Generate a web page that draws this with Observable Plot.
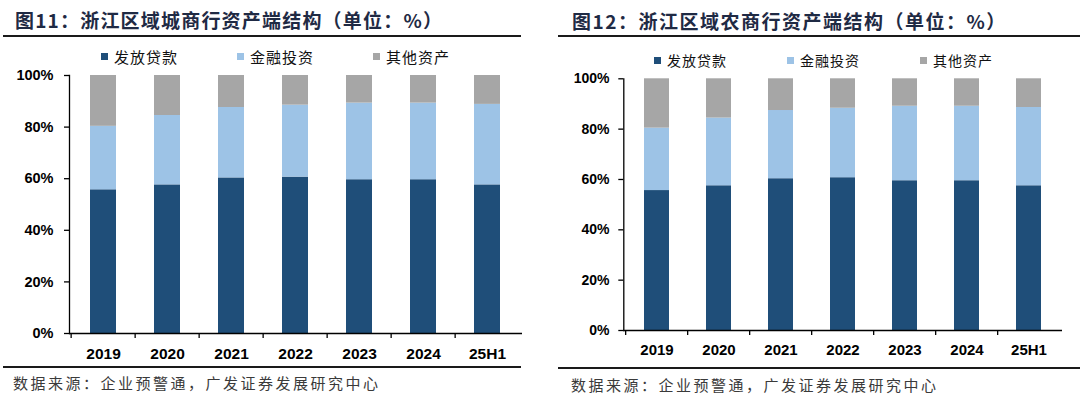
<!DOCTYPE html>
<html><head><meta charset="utf-8">
<script src="https://cdn.jsdelivr.net/npm/d3@7"></script>
<script src="https://cdn.jsdelivr.net/npm/@observablehq/plot@0.6"></script>
<style>
html,body{margin:0;padding:0;background:#fff;}
body{width:1080px;height:400px;overflow:hidden;position:relative;font-family:"Noto Sans CJK SC","Noto Sans",sans-serif;}
.abs{position:absolute;}
.title{font-size:19px;font-weight:bold;color:#1f2a44;white-space:nowrap;line-height:1;}
.rule{height:2px;background:#1a1a1a;}
.legend{display:flex;align-items:center;white-space:nowrap;color:#111;line-height:1;}
.legend .sw{width:7px;height:7px;display:inline-block;margin-right:6px;}
.src{color:#3a3a3a;white-space:nowrap;line-height:1;}
svg{overflow:visible;}
</style></head><body>
<script>
// ---- data ----
const years = ["2019","2020","2021","2022","2023","2024","25H1"];
const seriesNames = ["发放贷款","金融投资","其他资产"];
const seriesColors = ["#1f4e79","#9dc3e6","#a6a6a6"];
const yTicks = [0, 0.2, 0.4, 0.6, 0.8, 1.0];

// 图11 城商行 (%)
const cityLoans  = [55.7, 57.6, 60.3, 60.6, 59.6, 59.6, 57.6];
const cityInvest = [24.6, 26.9, 27.3, 27.9, 29.7, 29.7, 31.2];
const cityOther  = [19.7, 15.5, 12.4, 11.5, 10.7, 10.7, 11.2];

// 图12 农商行 (%)
const ruralLoans  = [55.6, 57.5, 60.3, 60.7, 59.5, 59.5, 57.5];
const ruralInvest = [24.8, 26.9, 27.1, 27.6, 29.6, 29.6, 31.1];
const ruralOther  = [19.6, 15.6, 12.6, 11.7, 10.9, 10.9, 11.4];

const title1 = "图11：浙江区域城商行资产端结构（单位：%）";
const title2 = "图12：浙江区域农商行资产端结构（单位：%）";
const sourceText = "数据来源：企业预警通，广发证券发展研究中心";

function buildRows(loans, invest, other) {
  const cols = [loans, invest, other];
  const rows = [];
  seriesNames.forEach((s, si) => {
    years.forEach((y, i) => rows.push({year: y, series: s, value: cols[si][i] / 100}));
  });
  return rows;
}

function el(tag, cls, style, text) {
  const e = document.createElement(tag);
  if (cls) e.className = cls;
  Object.assign(e.style, style || {});
  if (text != null) e.textContent = text;
  document.body.appendChild(e);
  return e;
}

function panel(cfg, rows) {
  el("div", "abs title", {left: cfg.titleX + "px", top: cfg.titleY + "px", letterSpacing: cfg.titleLS + "px"}, cfg.title);
  el("div", "abs rule", {left: cfg.ruleX1 + "px", width: (cfg.ruleX2 - cfg.ruleX1) + "px", top: cfg.topRuleY + "px"});
  el("div", "abs rule", {left: cfg.ruleX1 + "px", width: (cfg.ruleX2 - cfg.ruleX1) + "px", top: cfg.botRuleY + "px"});
  const lg = el("div", "abs legend", {left: cfg.legX + "px", top: (cfg.legY - 8) + "px", height: "16px", fontSize: cfg.legFont + "px", letterSpacing: cfg.legLS + "px"});
  seriesNames.forEach((s, i) => {
    const item = document.createElement("span");
    item.style.display = "inline-flex";
    item.style.alignItems = "center";
    item.style.width = cfg.legPitch + "px";
    const sw = document.createElement("span");
    sw.className = "sw";
    sw.style.background = seriesColors[i];
    const tx = document.createElement("span");
    tx.textContent = s;
    item.appendChild(sw); item.appendChild(tx);
    lg.appendChild(item);
  });
  el("div", "abs src", {left: cfg.srcX + "px", top: (cfg.srcY - 8) + "px", fontSize: "15px", letterSpacing: cfg.srcLS + "px"}, sourceText);

  const step = (cfg.width - cfg.ml - cfg.mr) / years.length;
  const chart = Plot.plot({
    width: cfg.width, height: cfg.height,
    marginLeft: cfg.ml, marginRight: cfg.mr, marginTop: cfg.mt, marginBottom: cfg.mb,
    style: {fontFamily: "'Liberation Sans', Arial, sans-serif", fontWeight: "bold", color: "#000", background: "transparent", overflow: "visible"},
    x: {domain: years, paddingInner: 0.59, paddingOuter: 0.295, label: null, axis: null},
    y: {domain: [0, 1], label: null, axis: null},
    color: {domain: seriesNames, range: seriesColors},
    marks: [
      Plot.barY(rows, Plot.stackY({x: "year", y: "value", fill: "series", order: seriesNames})),
      Plot.axisY({ticks: yTicks, tickFormat: d3.format(".0%"), tickSize: 5, tickPadding: cfg.yPad, fontSize: cfg.yFont, fontWeight: "bold", stroke: "#000", strokeWidth: 1.3}),
      Plot.axisX({tickSize: 0, tickPadding: cfg.xPad, fontSize: cfg.xFont, fontWeight: "bold"}),
      Plot.axisX({tickSize: 5, tickFormat: () => "", dx: -step / 2, stroke: "#000", strokeWidth: 1.3}),
      Plot.frame({anchor: "left", stroke: "#000", strokeWidth: 1.3}),
      Plot.ruleY([0], {stroke: "#000", strokeWidth: 1.3})
    ]
  });
  chart.style.position = "absolute";
  chart.style.left = cfg.left + "px";
  chart.style.top = cfg.top + "px";
  document.body.appendChild(chart);
}

panel({
  title: title1, titleX: 15, titleY: 10, titleLS: 1.2, ruleX1: 3, ruleX2: 521, topRuleY: 35, botRuleY: 366,
  legX: 101, legY: 56, legFont: 15, legLS: 1, legPitch: 136,
  srcX: 13, srcY: 383, srcLS: 2.5,
  left: 0, top: 64, width: 540, height: 300, ml: 69, mr: 18, mt: 11, mb: 31,
  xPad: 14.5, yPad: 11, xFont: 15.5, yFont: 14.5
}, buildRows(cityLoans, cityInvest, cityOther));

panel({
  title: title2, titleX: 572, titleY: 11, titleLS: 1.5, ruleX1: 558, ruleX2: 1080, topRuleY: 35, botRuleY: 367,
  legX: 654, legY: 60, legFont: 14, legLS: 1, legPitch: 133,
  srcX: 571, srcY: 385, srcLS: 2.5,
  left: 540, top: 64, width: 540, height: 300, ml: 83.3, mr: 18, mt: 14.3, mb: 34,
  xPad: 14.3, yPad: 9.3, xFont: 15, yFont: 14
}, buildRows(ruralLoans, ruralInvest, ruralOther));
</script>
</body></html>
